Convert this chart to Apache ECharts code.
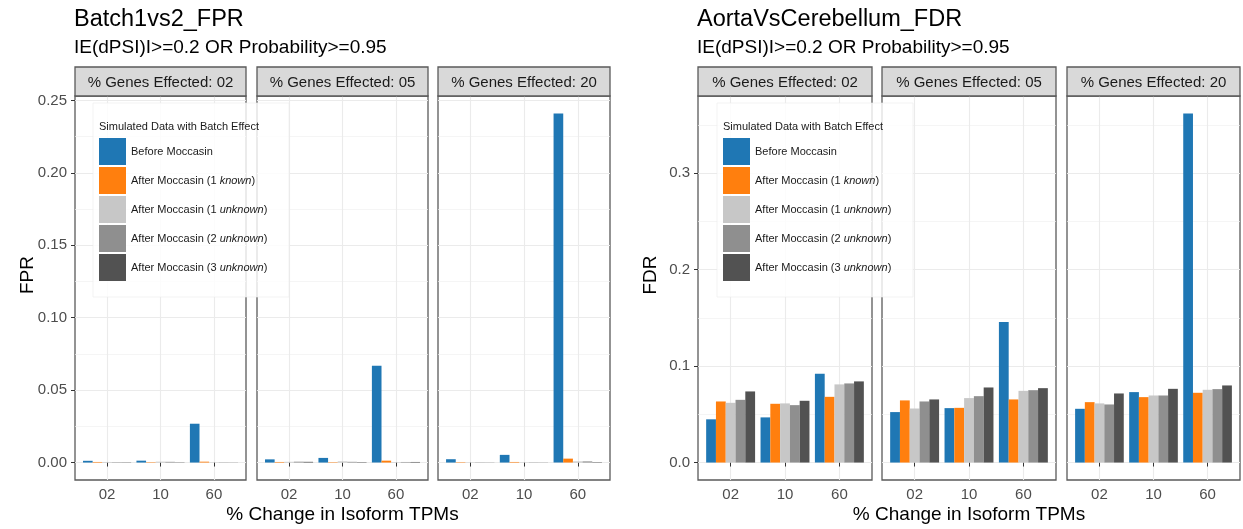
<!DOCTYPE html>
<html>
<head>
<meta charset="utf-8">
<title>Moccasin batch correction: FPR and FDR</title>
<script src="https://cdn.jsdelivr.net/npm/echarts@6/dist/echarts.min.js"></script>
<style>
  html, body { margin: 0; padding: 0; background: #ffffff; }
  #chart { width: 1243px; height: 529px; }
</style>
</head>
<body>
<div id="chart"></div>
<script>
// ---- data ------------------------------------------------------------
// x categories: % change in isoform TPMs
const changeCats = ['02', '10', '60'];
// facets: % genes effected
const genesPct = ['02', '05', '20'];

const methodNames = [
  'Before Moccasin',
  'After Moccasin (1 known)',
  'After Moccasin (1 unknown)',
  'After Moccasin (2 unknown)',
  'After Moccasin (3 unknown)'
];
const methodColors = ['#1f77b4', '#ff7f0e', '#c7c7c7', '#8f8f8f', '#525252'];

// Batch1vs2 FPR, one row per facet (02, 05, 20), one value per change category
const fprBefore   = [[0.0012, 0.0013, 0.0268], [0.0022, 0.0032, 0.0669], [0.0023, 0.0053, 0.2410]];
const fprKnown1   = [[0.0004, 0.0003, 0.0006], [0.0004, 0.0003, 0.0013], [0.0003, 0.0004, 0.0027]];
const fprUnknown1 = [[0.0004, 0.0006, 0.0002], [0.0005, 0.0008, 0.0003], [0.0002, 0.0002, 0.0008]];
const fprUnknown2 = [[0.0003, 0.0005, 0.0002], [0.0006, 0.0005, 0.0004], [0.0002, 0.0002, 0.0008]];
const fprUnknown3 = [[0.0002, 0.0002, 0.0001], [0.0005, 0.0003, 0.0004], [0.0001, 0.0001, 0.0003]];

// AortaVsCerebellum FDR, same layout
const fdrBefore   = [[0.0448, 0.0468, 0.0919], [0.0523, 0.0564, 0.1457], [0.0557, 0.0730, 0.3618]];
const fdrKnown1   = [[0.0633, 0.0609, 0.0681], [0.0644, 0.0567, 0.0654], [0.0626, 0.0678, 0.0723]];
const fdrUnknown1 = [[0.0619, 0.0613, 0.0810], [0.0560, 0.0668, 0.0743], [0.0613, 0.0695, 0.0754]];
const fdrUnknown2 = [[0.0650, 0.0595, 0.0820], [0.0633, 0.0688, 0.0750], [0.0602, 0.0695, 0.0761]];
const fdrUnknown3 = [[0.0737, 0.0640, 0.0841], [0.0654, 0.0778, 0.0771], [0.0716, 0.0764, 0.0799]];

// axis breaks
const fprTicks = [0, 0.05, 0.10, 0.15, 0.20, 0.25];
const fprMinor = [0.025, 0.075, 0.125, 0.175, 0.225];
const fdrTicks = [0, 0.1, 0.2, 0.3];
const fdrMinor = [0.05, 0.15, 0.25, 0.35];

// ---- layout ----------------------------------------------------------
const FONT = "'Liberation Sans', Arial, Helvetica, sans-serif";
const PANEL_TOP = 96, PANEL_BOTTOM = 480, STRIP_TOP = 67;
const BORDER = '#5a5a5a';

const panels = [
  {
    title: 'Batch1vs2_FPR', yName: 'FPR',
    values: [fprBefore, fprKnown1, fprUnknown1, fprUnknown2, fprUnknown3],
    ticks: fprTicks, minor: fprMinor, decimals: 2,
    facets: [[75, 171], [257, 171], [438, 172]],
    legendBox: [93, 103, 196, 194], yNameX: 28
  },
  {
    title: 'AortaVsCerebellum_FDR', yName: 'FDR',
    values: [fdrBefore, fdrKnown1, fdrUnknown1, fdrUnknown2, fdrUnknown3],
    ticks: fdrTicks, minor: fdrMinor, decimals: 1,
    facets: [[698, 174], [882, 174], [1067, 173]],
    legendBox: [717, 103, 196, 194], yNameX: 651
  }
];

const subtitle = 'IE(dPSI)I>=0.2 OR Probability>=0.95';
const xTitle = '% Change in Isoform TPMs';

const grids = [], xAxes = [], yAxes = [], series = [], graphics = [], legends = [];

panels.forEach(function (p) {
  let yMax = 0;
  p.values.forEach(function (m) { m.forEach(function (row) { row.forEach(function (v) { yMax = Math.max(yMax, v); }); }); });
  const yMin = -0.05 * yMax, yTop = 1.05 * yMax;

  p.facets.forEach(function (fc, f) {
    const g = grids.length;
    grids.push({
      left: fc[0], width: fc[1], top: PANEL_TOP, height: PANEL_BOTTOM - PANEL_TOP,
      show: true, borderColor: BORDER, borderWidth: 1.3, backgroundColor: '#ffffff', z: 0
    });
    xAxes.push({
      type: 'value', gridIndex: g, min: 0.4, max: 3.6,
      axisLine: { show: false },
      axisTick: { show: true, customValues: [1, 2, 3], length: 4, lineStyle: { color: '#333333', width: 1 } },
      axisLabel: {
        show: true, customValues: [1, 2, 3], margin: 7,
        formatter: function (v) { return changeCats[Math.round(v) - 1]; },
        fontFamily: FONT, fontSize: 15, color: '#4d4d4d'
      },
      splitLine: { show: true, lineStyle: { color: '#ebebeb', width: 1.1 } }
    });
    // major breaks (labels, ticks and major grid lines)
    const yMain = yAxes.length;
    yAxes.push({
      type: 'value', gridIndex: g, min: yMin, max: yTop,
      axisLine: { show: false },
      axisTick: { show: f === 0, customValues: p.ticks, length: 4, lineStyle: { color: '#333333', width: 1 } },
      axisLabel: {
        show: f === 0, customValues: p.ticks, margin: 8,
        formatter: function (v) { return v.toFixed(p.decimals); },
        fontFamily: FONT, fontSize: 15, color: '#4d4d4d'
      },
      splitLine: { show: true, lineStyle: { color: '#ebebeb', width: 1.1 } }
    });
    // minor grid lines
    yAxes.push({
      type: 'value', gridIndex: g, min: yMin, max: yTop, position: 'left',
      axisLine: { show: false },
      axisTick: { show: false, customValues: p.minor },
      axisLabel: { show: false, customValues: p.minor },
      splitLine: { show: true, lineStyle: { color: '#f0f0f0', width: 0.7 } }
    });

    p.values.forEach(function (m, k) {
      series.push({
        type: 'bar', name: methodNames[k],
        xAxisIndex: g, yAxisIndex: yMain,
        data: changeCats.map(function (c, i) { return [i + 1, m[f][i]]; }),
        barWidth: '18%', barGap: '0%',
        itemStyle: { color: methodColors[k] },
        z: 2, animation: false
      });
    });

    // facet strip
    graphics.push({
      type: 'rect', z: 5,
      shape: { x: fc[0], y: STRIP_TOP, width: fc[1], height: PANEL_TOP - STRIP_TOP },
      style: { fill: '#d9d9d9', stroke: BORDER, lineWidth: 1.3 }
    });
    graphics.push({
      type: 'text', z: 6, x: fc[0] + fc[1] / 2, y: (STRIP_TOP + PANEL_TOP) / 2 + 1,
      style: {
        text: '% Genes Effected: ' + genesPct[f], fill: '#1a1a1a',
        font: '15px ' + FONT, textAlign: 'center', textVerticalAlign: 'middle'
      }
    });
  });

  const left = p.facets[0][0];
  const last = p.facets[p.facets.length - 1];
  const right = last[0] + last[1];

  // titles
  graphics.push({
    type: 'text', z: 6, x: left - 1, y: 20,
    style: { text: p.title, fill: '#000000', font: '23.5px ' + FONT, textAlign: 'left', textVerticalAlign: 'middle' }
  });
  graphics.push({
    type: 'text', z: 6, x: left - 1, y: 48,
    style: { text: subtitle, fill: '#000000', font: '19px ' + FONT, textAlign: 'left', textVerticalAlign: 'middle' }
  });
  // axis titles
  graphics.push({
    type: 'text', z: 6, x: (left + right) / 2, y: 515,
    style: { text: xTitle, fill: '#000000', font: '19px ' + FONT, textAlign: 'center', textVerticalAlign: 'middle' }
  });
  graphics.push({
    type: 'text', z: 6, x: p.yNameX, y: 275, rotation: Math.PI / 2,
    style: { text: p.yName, fill: '#000000', font: '19px ' + FONT, textAlign: 'center', textVerticalAlign: 'middle' }
  });

  // legend box with its title
  const lb = p.legendBox;
  graphics.push({
    type: 'rect', z: 3,
    shape: { x: lb[0], y: lb[1], width: lb[2], height: lb[3] },
    style: { fill: 'rgba(255,255,255,0.82)', stroke: 'rgba(235,235,235,0.6)', lineWidth: 1 }
  });
  graphics.push({
    type: 'text', z: 6, x: lb[0] + 6, y: lb[1] + 24,
    style: { text: 'Simulated Data with Batch Effect', fill: '#1a1a1a', font: '11px ' + FONT, textAlign: 'left', textVerticalAlign: 'middle' }
  });
  legends.push({
    data: methodNames, orient: 'vertical', left: lb[0] + 6, top: lb[1] + 35,
    padding: 0, icon: 'rect', itemWidth: 27, itemHeight: 27, itemGap: 2,
    selectedMode: false, z: 6,
    itemStyle: { borderWidth: 0 },
    formatter: function (name) {
      const m = name.match(/^(.*\(\d )(\w+)(\))$/);
      return m ? '{n|' + m[1] + '}{i|' + m[2] + '}{n|' + m[3] + '}' : '{n|' + name + '}';
    },
    textStyle: {
      fontFamily: FONT, fontSize: 11, color: '#1a1a1a',
      rich: {
        n: { fontFamily: FONT, fontSize: 11, color: '#1a1a1a' },
        i: { fontFamily: FONT, fontSize: 11, color: '#1a1a1a', fontStyle: 'italic' }
      }
    }
  });
});

const chart = echarts.init(document.getElementById('chart'), null, { renderer: 'canvas' });
chart.setOption({
  animation: false,
  backgroundColor: '#ffffff',
  grid: grids,
  xAxis: xAxes,
  yAxis: yAxes,
  legend: legends,
  series: series,
  graphic: { elements: graphics }
});
</script>
</body>
</html>
